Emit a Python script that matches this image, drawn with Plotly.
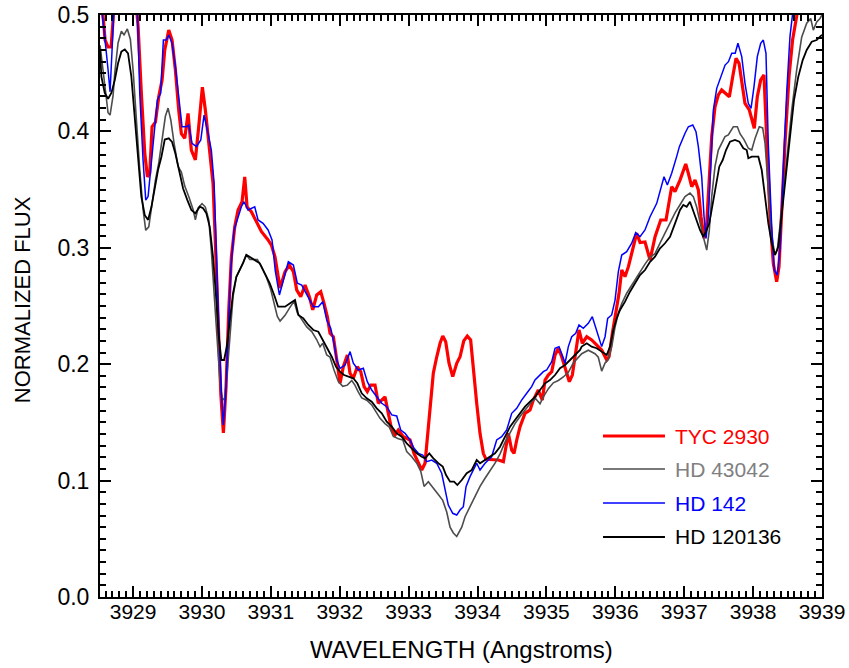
import plotly.graph_objects as go

# ---------------- data (wavelength in Angstroms, normalized flux) ----------------
tyc_wl = [3928.521, 3928.594, 3928.637, 3928.681, 3928.710, 3928.730, 3928.800, 3928.950, 3929.030,
          3929.073, 3929.120, 3929.170, 3929.208, 3929.242, 3929.276, 3929.324, 3929.373, 3929.421,
          3929.460, 3929.518, 3929.566, 3929.614, 3929.663, 3929.701, 3929.750, 3929.798, 3929.846,
          3929.904, 3929.953, 3930.006, 3930.050, 3930.113, 3930.161, 3930.195, 3930.234, 3930.273,
          3930.311, 3930.350, 3930.389, 3930.427, 3930.476, 3930.524, 3930.582, 3930.621, 3930.655,
          3930.717, 3930.790, 3930.862, 3930.960, 3931.010, 3931.061, 3931.133, 3931.206, 3931.269,
          3931.327, 3931.376, 3931.434, 3931.496, 3931.559, 3931.608, 3931.666, 3931.724, 3931.772,
          3931.820, 3931.859, 3931.907, 3931.957, 3932.004, 3932.052, 3932.110, 3932.149, 3932.197,
          3932.255, 3932.305, 3932.353, 3932.400, 3932.450, 3932.512, 3932.560, 3932.610, 3932.657,
          3932.705, 3932.755, 3932.803, 3932.850, 3932.923, 3932.972, 3933.020, 3933.078, 3933.141,
          3933.190, 3933.238, 3933.271, 3933.310, 3933.358, 3933.408, 3933.456, 3933.495, 3933.538,
          3933.586, 3933.640, 3933.698, 3933.746, 3933.800, 3933.851, 3933.900, 3933.940, 3933.988,
          3934.036, 3934.084, 3934.123, 3934.230, 3934.302, 3934.375, 3934.409, 3934.447, 3934.496,
          3934.530, 3934.569, 3934.617, 3934.689, 3934.762, 3934.810, 3934.882, 3934.940, 3934.980,
          3935.027, 3935.077, 3935.125, 3935.173, 3935.222, 3935.270, 3935.333, 3935.376, 3935.425,
          3935.473, 3935.521, 3935.585, 3935.657, 3935.730, 3935.802, 3935.875, 3935.909, 3935.957,
          3936.006, 3936.054, 3936.093, 3936.140, 3936.190, 3936.247, 3936.310, 3936.359, 3936.431,
          3936.504, 3936.577, 3936.659, 3936.736, 3936.818, 3936.866, 3936.939, 3937.022, 3937.060,
          3937.109, 3937.157, 3937.205, 3937.244, 3937.288, 3937.327, 3937.364, 3937.399, 3937.447,
          3937.495, 3937.544, 3937.606, 3937.655, 3937.704, 3937.752, 3937.796, 3937.835, 3937.882,
          3937.945, 3937.980, 3938.017, 3938.061, 3938.110, 3938.158, 3938.197, 3938.245, 3938.293,
          3938.342, 3938.376, 3938.415, 3938.463, 3938.521, 3938.573, 3938.631, 3938.700, 3938.850,
          3939.000]
tyc_fx = [0.530, 0.4785, 0.4725, 0.4725, 0.496, 0.520, 0.560, 0.560, 0.520,
          0.490, 0.433, 0.381, 0.361, 0.364, 0.404, 0.408, 0.430, 0.444,
          0.470, 0.487, 0.4785, 0.453, 0.418, 0.398, 0.394, 0.4155, 0.384,
          0.3755, 0.404, 0.438, 0.418, 0.384, 0.355, 0.304, 0.232, 0.175,
          0.141, 0.181, 0.2465, 0.292, 0.318, 0.3325, 0.3396, 0.361, 0.335,
          0.331, 0.3225, 0.314, 0.3067, 0.302, 0.292, 0.2655, 0.2795, 0.285,
          0.2795, 0.2637, 0.258, 0.268, 0.258, 0.2466, 0.2595, 0.2623, 0.2523,
          0.2408, 0.2265, 0.2236, 0.2036, 0.1836, 0.1978, 0.2079, 0.1922, 0.1879,
          0.1978, 0.1936, 0.1807, 0.1764, 0.1821, 0.1821, 0.1664, 0.1692, 0.172,
          0.1578, 0.1435, 0.1392, 0.1435, 0.1377, 0.1363, 0.1349, 0.1234, 0.1149,
          0.1091, 0.1149, 0.1349, 0.1578, 0.1922, 0.2064, 0.218, 0.2242, 0.2193,
          0.2008, 0.1893, 0.2008, 0.2064, 0.220, 0.2242, 0.2208, 0.195, 0.1664,
          0.1406, 0.1234, 0.1183, 0.1177, 0.1177, 0.1163, 0.1291, 0.1406, 0.1263,
          0.1234, 0.1349, 0.1463, 0.1578, 0.1607, 0.1692, 0.1778, 0.1692, 0.1864,
          0.1907, 0.1936, 0.2079, 0.2137, 0.2064, 0.1978, 0.185, 0.1907, 0.2122,
          0.2294, 0.218, 0.2236, 0.2208, 0.2165, 0.2122, 0.2036, 0.2064, 0.2265,
          0.2437, 0.2609, 0.281, 0.2752, 0.2838, 0.2981, 0.3125, 0.3045, 0.305,
          0.2895, 0.3095, 0.3239, 0.3239, 0.3525, 0.3482, 0.3582, 0.372, 0.364,
          0.3525, 0.3582, 0.3497, 0.3267, 0.3082, 0.321, 0.3611, 0.3955, 0.4212,
          0.4313, 0.4356, 0.4327, 0.4298, 0.447, 0.4628, 0.4585, 0.4413, 0.4241,
          0.4184, 0.4098, 0.4027, 0.4298, 0.4442, 0.4485, 0.3898, 0.3267, 0.2867,
          0.2709, 0.2838, 0.3325, 0.3898, 0.447, 0.4785, 0.4985, 0.530, 0.560,
          0.570]

hd43042_wl = [3928.521, 3928.579, 3928.637, 3928.666, 3928.710, 3928.734, 3928.782, 3928.830, 3928.869,
              3928.917, 3928.961, 3929.000, 3929.048, 3929.097, 3929.145, 3929.184, 3929.228, 3929.276,
              3929.324, 3929.373, 3929.421, 3929.469, 3929.508, 3929.547, 3929.595, 3929.653, 3929.701,
              3929.750, 3929.808, 3929.871, 3929.904, 3929.943, 3930.001, 3930.049, 3930.099, 3930.136,
              3930.176, 3930.224, 3930.263, 3930.296, 3930.331, 3930.369, 3930.408, 3930.451, 3930.499,
              3930.549, 3930.597, 3930.644, 3930.694, 3930.766, 3930.804, 3930.862, 3930.935, 3930.999,
              3931.057, 3931.094, 3931.134, 3931.206, 3931.279, 3931.337, 3931.385, 3931.448, 3931.521,
              3931.594, 3931.666, 3931.714, 3931.753, 3931.811, 3931.859, 3931.917, 3931.980, 3932.044,
              3932.110, 3932.174, 3932.220, 3932.270, 3932.319, 3932.392, 3932.464, 3932.527, 3932.585,
              3932.657, 3932.720, 3932.778, 3932.851, 3932.914, 3932.972, 3933.045, 3933.118, 3933.176,
              3933.224, 3933.286, 3933.359, 3933.431, 3933.495, 3933.553, 3933.601, 3933.649, 3933.698,
              3933.771, 3933.819, 3933.891, 3933.964, 3934.036, 3934.109, 3934.181, 3934.254, 3934.327,
              3934.399, 3934.472, 3934.544, 3934.617, 3934.689, 3934.762, 3934.835, 3934.907, 3934.955,
              3935.028, 3935.100, 3935.173, 3935.245, 3935.318, 3935.390, 3935.463, 3935.512, 3935.608,
              3935.705, 3935.753, 3935.802, 3935.851, 3935.898, 3935.948, 3935.996, 3936.044, 3936.093,
              3936.165, 3936.238, 3936.310, 3936.383, 3936.431, 3936.504, 3936.576, 3936.649, 3936.721,
              3936.794, 3936.867, 3936.939, 3937.012, 3937.084, 3937.132, 3937.181, 3937.229, 3937.277,
              3937.327, 3937.364, 3937.399, 3937.447, 3937.495, 3937.544, 3937.592, 3937.640, 3937.713,
              3937.771, 3937.810, 3937.868, 3937.931, 3937.980, 3938.028, 3938.090, 3938.139, 3938.173,
              3938.221, 3938.270, 3938.318, 3938.351, 3938.415, 3938.488, 3938.560, 3938.633, 3938.705,
              3938.778, 3938.836, 3938.874, 3938.923, 3938.971, 3939.000]
hd43042_fx = [0.474, 0.444, 0.416, 0.414, 0.431, 0.450, 0.476, 0.486, 0.483,
              0.488, 0.479, 0.453, 0.410, 0.367, 0.333, 0.315, 0.318, 0.338,
              0.358, 0.373, 0.393, 0.413, 0.420, 0.410, 0.390, 0.370, 0.365,
              0.353, 0.344, 0.333, 0.324, 0.334, 0.338, 0.335, 0.324, 0.298,
              0.261, 0.218, 0.184, 0.169, 0.171, 0.195, 0.229, 0.258, 0.275,
              0.281, 0.287, 0.294, 0.290, 0.290, 0.290, 0.284, 0.275, 0.264,
              0.249, 0.241, 0.237, 0.242, 0.249, 0.254, 0.244, 0.238, 0.232,
              0.228, 0.221, 0.215, 0.218, 0.208, 0.206, 0.195, 0.185, 0.181,
              0.182, 0.186, 0.182, 0.176, 0.171, 0.169, 0.165, 0.159, 0.1535,
              0.149, 0.146, 0.138, 0.136, 0.135, 0.125, 0.1205, 0.115, 0.108,
              0.095, 0.099, 0.093, 0.088, 0.083, 0.073, 0.060, 0.055, 0.052,
              0.060, 0.069, 0.078, 0.086, 0.095, 0.102, 0.108, 0.115, 0.123,
              0.133, 0.141, 0.149, 0.155, 0.161, 0.166, 0.171, 0.166, 0.172,
              0.179, 0.184, 0.186, 0.189, 0.193, 0.201, 0.206, 0.209, 0.212,
              0.209, 0.206, 0.194, 0.201, 0.204, 0.215, 0.232, 0.244, 0.252,
              0.261, 0.268, 0.274, 0.281, 0.286, 0.292, 0.295, 0.304, 0.3125,
              0.321, 0.330, 0.337, 0.344, 0.347, 0.344, 0.335, 0.321, 0.3095,
              0.298, 0.315, 0.344, 0.370, 0.384, 0.390, 0.3955, 0.397, 0.404,
              0.404, 0.398, 0.393, 0.3855, 0.384, 0.394, 0.404, 0.403, 0.390,
              0.347, 0.3095, 0.294, 0.298, 0.3325, 0.378, 0.418, 0.453, 0.481,
              0.493, 0.497, 0.487, 0.494, 0.497, 0.500]

hd142_wl = [3928.521, 3928.579, 3928.637, 3928.666, 3928.695, 3928.724, 3928.800, 3928.980, 3929.060,
            3929.097, 3929.145, 3929.184, 3929.218, 3929.257, 3929.305, 3929.353, 3929.400, 3929.440,
            3929.483, 3929.518, 3929.566, 3929.614, 3929.663, 3929.711, 3929.774, 3929.808, 3929.856,
            3929.919, 3929.983, 3930.030, 3930.089, 3930.136, 3930.176, 3930.209, 3930.244, 3930.282,
            3930.311, 3930.345, 3930.379, 3930.418, 3930.466, 3930.524, 3930.572, 3930.611, 3930.669,
            3930.766, 3930.814, 3930.887, 3930.960, 3931.017, 3931.065, 3931.124, 3931.182, 3931.254,
            3931.327, 3931.385, 3931.448, 3931.520, 3931.617, 3931.690, 3931.753, 3931.811, 3931.869,
            3931.917, 3931.956, 3932.004, 3932.077, 3932.150, 3932.197, 3932.270, 3932.342, 3932.400,
            3932.464, 3932.537, 3932.610, 3932.682, 3932.755, 3932.827, 3932.885, 3932.948, 3933.020,
            3933.078, 3933.141, 3933.205, 3933.262, 3933.335, 3933.408, 3933.480, 3933.528, 3933.576,
            3933.640, 3933.698, 3933.746, 3933.794, 3933.833, 3933.891, 3933.988, 3934.036, 3934.109,
            3934.205, 3934.278, 3934.350, 3934.423, 3934.496, 3934.569, 3934.640, 3934.714, 3934.786,
            3934.834, 3934.907, 3934.955, 3935.003, 3935.077, 3935.125, 3935.183, 3935.246, 3935.270,
            3935.318, 3935.367, 3935.425, 3935.473, 3935.535, 3935.608, 3935.666, 3935.705, 3935.753,
            3935.802, 3935.851, 3935.889, 3935.947, 3935.996, 3936.044, 3936.093, 3936.165, 3936.238,
            3936.296, 3936.359, 3936.431, 3936.504, 3936.601, 3936.673, 3936.707, 3936.755, 3936.818,
            3936.890, 3936.930, 3937.012, 3937.060, 3937.124, 3937.171, 3937.205, 3937.254, 3937.288,
            3937.317, 3937.350, 3937.385, 3937.423, 3937.472, 3937.520, 3937.593, 3937.642, 3937.690,
            3937.740, 3937.780, 3937.835, 3937.882, 3937.930, 3937.970, 3938.013, 3938.061, 3938.110,
            3938.148, 3938.187, 3938.220, 3938.270, 3938.307, 3938.350, 3938.390, 3938.438, 3938.487,
            3938.535, 3938.573, 3938.650, 3938.800, 3939.000]
hd142_fx = [0.515, 0.487, 0.453, 0.434, 0.470, 0.508, 0.560, 0.560, 0.510,
            0.4327, 0.3754, 0.341, 0.344, 0.3668, 0.3955, 0.427, 0.4327, 0.4785,
            0.4785, 0.4828, 0.4757, 0.4556, 0.4298, 0.404, 0.404, 0.4055, 0.3898,
            0.3869, 0.3926, 0.414, 0.3983, 0.384, 0.3554, 0.2895, 0.2322, 0.175,
            0.1478, 0.175, 0.2322, 0.2809, 0.3153, 0.3267, 0.3353, 0.3396, 0.3325,
            0.3353, 0.3239, 0.321, 0.3153, 0.3067, 0.280, 0.2595, 0.2723, 0.288,
            0.2852, 0.2695, 0.268, 0.2595, 0.2494, 0.2494, 0.2537, 0.238, 0.2308,
            0.218, 0.2036, 0.1965, 0.1993, 0.2108, 0.2008, 0.195, 0.1965, 0.185,
            0.1778, 0.1721, 0.1664, 0.1635, 0.1564, 0.1555, 0.1435, 0.1406, 0.1349,
            0.1277, 0.1234, 0.122, 0.1163, 0.1177, 0.1149, 0.1063, 0.0919, 0.079,
            0.0719, 0.0704, 0.0747, 0.0776, 0.0948, 0.1034, 0.1149, 0.1091, 0.1149,
            0.1205, 0.1349, 0.1377, 0.1435, 0.1578, 0.1621, 0.1692, 0.175, 0.1807,
            0.1864, 0.1907, 0.1936, 0.195, 0.2022, 0.2137, 0.2151, 0.2051, 0.2008,
            0.2151, 0.2236, 0.2265, 0.2337, 0.2308, 0.2351, 0.2408, 0.2337, 0.2236,
            0.2151, 0.2236, 0.2394, 0.2423, 0.2551, 0.2795, 0.2938, 0.2967, 0.3039,
            0.313, 0.3095, 0.3153, 0.3267, 0.3382, 0.3554, 0.3611, 0.354, 0.364,
            0.3783, 0.3869, 0.3984, 0.404, 0.4055, 0.3998, 0.3869, 0.3611, 0.3267,
            0.308, 0.3267, 0.3754, 0.4184, 0.437, 0.4456, 0.457, 0.4599, 0.4671,
            0.4671, 0.4757, 0.4642, 0.4413, 0.4241, 0.4198, 0.4384, 0.4642, 0.4757,
            0.4785, 0.4671, 0.3898, 0.3181, 0.2809, 0.2766, 0.2981, 0.3668, 0.4327,
            0.4814, 0.5043, 0.540, 0.570, 0.580]

hd120136_wl = [3928.521, 3928.540, 3928.589, 3928.637, 3928.685, 3928.734, 3928.782, 3928.830, 3928.880,
               3928.927, 3928.975, 3929.025, 3929.073, 3929.120, 3929.170, 3929.218, 3929.266, 3929.315,
               3929.363, 3929.411, 3929.460, 3929.518, 3929.566, 3929.614, 3929.663, 3929.726, 3929.788,
               3929.846, 3929.904, 3929.968, 3930.016, 3930.064, 3930.113, 3930.161, 3930.209, 3930.244,
               3930.282, 3930.321, 3930.360, 3930.403, 3930.451, 3930.499, 3930.549, 3930.597, 3930.644,
               3930.766, 3930.839, 3930.911, 3930.984, 3931.057, 3931.105, 3931.134, 3931.206, 3931.279,
               3931.351, 3931.399, 3931.472, 3931.544, 3931.617, 3931.689, 3931.753, 3931.811, 3931.884,
               3931.946, 3932.004, 3932.062, 3932.125, 3932.197, 3932.255, 3932.319, 3932.392, 3932.464,
               3932.537, 3932.610, 3932.682, 3932.755, 3932.827, 3932.900, 3932.972, 3933.045, 3933.118,
               3933.190, 3933.238, 3933.300, 3933.359, 3933.431, 3933.495, 3933.543, 3933.601, 3933.659,
               3933.707, 3933.771, 3933.843, 3933.916, 3933.988, 3934.036, 3934.109, 3934.181, 3934.254,
               3934.327, 3934.399, 3934.472, 3934.544, 3934.617, 3934.689, 3934.762, 3934.835, 3934.907,
               3934.980, 3935.052, 3935.125, 3935.197, 3935.270, 3935.343, 3935.415, 3935.488, 3935.512,
               3935.585, 3935.657, 3935.730, 3935.802, 3935.875, 3935.923, 3935.971, 3936.020, 3936.068,
               3936.141, 3936.213, 3936.286, 3936.358, 3936.431, 3936.504, 3936.576, 3936.649, 3936.721,
               3936.794, 3936.867, 3936.939, 3936.987, 3937.036, 3937.084, 3937.123, 3937.190, 3937.229,
               3937.277, 3937.316, 3937.364, 3937.414, 3937.461, 3937.509, 3937.559, 3937.607, 3937.665,
               3937.737, 3937.800, 3937.858, 3937.907, 3937.931, 3937.980, 3938.076, 3938.125, 3938.173,
               3938.221, 3938.270, 3938.318, 3938.366, 3938.415, 3938.473, 3938.536, 3938.594, 3938.656,
               3938.720, 3938.778, 3938.851, 3938.923, 3938.971, 3939.000]
hd120136_fx = [0.470, 0.447, 0.433, 0.428, 0.433, 0.444, 0.4585, 0.4685, 0.4705,
               0.467, 0.447, 0.413, 0.375, 0.344, 0.328, 0.324, 0.335, 0.3525,
               0.367, 0.378, 0.393, 0.394, 0.391, 0.381, 0.367, 0.351, 0.341,
               0.3325, 0.3296, 0.3353, 0.334, 0.3296, 0.318, 0.292, 0.255, 0.224,
               0.2036, 0.2036, 0.215, 0.238, 0.261, 0.275, 0.281, 0.287, 0.294,
               0.2895, 0.2867, 0.278, 0.2695, 0.258, 0.2494, 0.2494, 0.2494, 0.2523,
               0.2552, 0.2423, 0.2394, 0.2337, 0.2294, 0.2279, 0.2208, 0.2137, 0.2064,
               0.1978, 0.1936, 0.1907, 0.1893, 0.1879, 0.1836, 0.175, 0.1707, 0.1678,
               0.1621, 0.1578, 0.1506, 0.1463, 0.1406, 0.1377, 0.132, 0.1277, 0.1234,
               0.1205, 0.1191, 0.1234, 0.1191, 0.1149, 0.112, 0.1048, 0.0991, 0.0991,
               0.0962, 0.1005, 0.1063, 0.1091, 0.1177, 0.1149, 0.1177, 0.1205, 0.1234,
               0.1291, 0.1377, 0.1463, 0.1521, 0.1578, 0.1635, 0.1678, 0.172, 0.1778,
               0.1836, 0.1864, 0.1907, 0.1965, 0.1993, 0.2036, 0.2079, 0.2122, 0.2151,
               0.218, 0.2151, 0.2137, 0.2108, 0.2079, 0.2151, 0.2294, 0.2394, 0.2466,
               0.2537, 0.2623, 0.2695, 0.2766, 0.2809, 0.288, 0.2924, 0.2995, 0.3039,
               0.3095, 0.321, 0.3325, 0.3368, 0.3353, 0.3396, 0.3325, 0.321, 0.3153,
               0.3095, 0.3139, 0.321, 0.3382, 0.3554, 0.3697, 0.3754, 0.384, 0.3912,
               0.3926, 0.3912, 0.3855, 0.384, 0.3769, 0.3783, 0.3783, 0.3668, 0.3439,
               0.321, 0.3039, 0.2938, 0.301, 0.3267, 0.3611, 0.3955, 0.427, 0.447,
               0.4613, 0.47, 0.477, 0.4785, 0.4814, 0.483]

series_names = ["TYC 2930", "HD 43042", "HD 142", "HD 120136"]
line_colors = ["#ff0000", "#4d4d4d", "#0000ff", "#000000"]
text_colors = ["#ff0000", "#808080", "#0000ff", "#000000"]
line_widths = [3.2, 1.6, 1.5, 1.8]

x_ticks = [3929, 3930, 3931, 3932, 3933, 3934, 3935, 3936, 3937, 3938, 3939]
y_ticks = [0.0, 0.1, 0.2, 0.3, 0.4, 0.5]
x_title = "WAVELENGTH (Angstroms)"
y_title = "NORMALIZED FLUX"

FONT = "Liberation Sans, Arial, Helvetica, sans-serif"

fig = go.Figure()
data = [(tyc_wl, tyc_fx), (hd43042_wl, hd43042_fx), (hd142_wl, hd142_fx), (hd120136_wl, hd120136_fx)]
for (wl, fx), name, col, w in zip(data, series_names, line_colors, line_widths):
    fig.add_trace(go.Scatter(x=wl, y=fx, mode="lines", name=name,
                             line=dict(color=col, width=w), showlegend=False))

# manual legend (line samples + coloured labels)
leg_y = [0.2766, 0.2199, 0.1615, 0.1031]
for yy, col, tcol, w, name in zip(leg_y, line_colors, text_colors, line_widths, series_names):
    fig.add_shape(type="line", xref="paper", yref="paper", x0=0.6967, x1=0.7825, y0=yy, y1=yy,
                  line=dict(color=col, width=w))
    fig.add_annotation(xref="paper", yref="paper", x=0.7936, y=yy, text=name, showarrow=False,
                       xanchor="left", yanchor="middle", font=dict(family=FONT, size=21, color=tcol))

# axis titles as fixed annotations
fig.add_annotation(xref="paper", yref="paper", x=0.5, y=-0.091, text=x_title, showarrow=False,
                   xanchor="center", yanchor="middle", font=dict(family=FONT, size=24, color="black"))
fig.add_annotation(xref="paper", yref="paper", x=-0.108, y=0.51, text=y_title, showarrow=False,
                   textangle=-90, xanchor="center", yanchor="middle",
                   font=dict(family=FONT, size=22, color="black"))

fig.update_xaxes(range=[3928.52, 3939], tickvals=x_ticks, ticktext=[str(v) for v in x_ticks],
                 ticks="inside", ticklen=11, tickwidth=2, tickcolor="black",
                 minor=dict(dtick=0.1, tick0=3929, ticks="inside", ticklen=6, tickwidth=1.6, tickcolor="black"),
                 showline=True, linecolor="black", linewidth=2, mirror="allticks",
                 showgrid=False, zeroline=False, ticklabelstandoff=-5, automargin=False,
                 tickfont=dict(family=FONT, size=21, color="black"))
fig.update_yaxes(range=[0, 0.5], tickvals=y_ticks, ticktext=["%.1f" % v for v in y_ticks],
                 ticks="inside", ticklen=11, tickwidth=2, tickcolor="black",
                 minor=dict(dtick=0.01, tick0=0, ticks="inside", ticklen=6, tickwidth=1.6, tickcolor="black"),
                 showline=True, linecolor="black", linewidth=2, mirror="allticks",
                 showgrid=False, zeroline=False, ticklabelstandoff=4, automargin=False,
                 tickfont=dict(family=FONT, size=23, color="black"))

fig.update_layout(width=849, height=668, margin=dict(l=100, r=27, t=15, b=71),
                  plot_bgcolor="white", paper_bgcolor="white", showlegend=False)

fig.write_html("out.html")
